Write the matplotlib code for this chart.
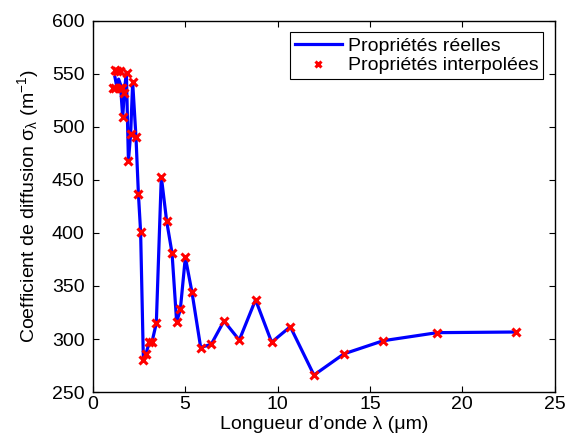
import matplotlib
matplotlib.use("Agg")
import matplotlib.pyplot as plt

plt.rcParams['font.family'] = ['Liberation Sans', 'DejaVu Sans']
plt.rcParams['mathtext.fontset'] = 'custom'
plt.rcParams['mathtext.rm'] = 'Liberation Sans'
plt.rcParams['mathtext.it'] = 'Liberation Sans'

# Real properties (line)
line_x = [1.2, 1.3, 1.4, 1.5, 1.62, 1.72, 1.82, 1.93, 2.05, 2.16, 2.34, 2.47, 2.59,
          2.74, 2.86, 3.06, 3.21, 3.44, 3.71, 4.0, 4.29, 4.54, 4.74, 5.01, 5.37,
          5.84, 6.41, 7.1, 7.93, 8.81, 9.68, 10.69, 11.97, 13.59, 15.72, 18.64, 22.88]
line_y = [547, 538, 545, 540, 509, 535, 551, 468, 493, 542, 490, 437, 401,
          280, 285, 297, 297.5, 315, 453, 411, 381, 316, 328, 377, 344,
          292, 295, 317, 299, 337, 297, 311.6, 266, 286, 298.4, 306, 306.6]

# Interpolated properties (markers)
mark_x = [1.08, 1.21, 1.3, 1.45, 1.21, 1.45, 1.57, 1.71, 1.62, 1.84, 2.16, 1.93, 2.05, 2.34,
          2.47, 2.59, 2.74, 2.86, 3.06, 3.21, 3.44, 3.71, 4.0, 4.29, 4.54, 4.74,
          5.01, 5.37, 5.84, 6.41, 7.1, 7.93, 8.81, 9.68, 10.69, 11.97, 13.59,
          15.72, 18.64, 22.88]
mark_y = [537, 553.5, 553, 553, 537, 537, 537, 532, 509.5, 551, 542.5, 468, 493, 490,
          437, 401, 280, 285.6, 297, 297.5, 315, 453, 411, 381, 316, 328,
          377, 344, 292, 295, 317, 299, 337, 297, 311.6, 266, 286,
          298.4, 306, 306.6]

xticks = [0, 5, 10, 15, 20, 25]
yticks = [250, 300, 350, 400, 450, 500, 550, 600]

fig = plt.figure(figsize=(5.69, 4.42), dpi=100)
ax = fig.add_axes([0.163, 0.113, 0.812, 0.840])

ax.plot(line_x, line_y, color='#0000ff', lw=2.3, label='Propriétés réelles', zorder=2)
ax.plot(mark_x, mark_y, linestyle='none', marker='x', color='#ff0000',
        markersize=5.5, markeredgewidth=2.2, label='Propriétés interpolées', zorder=3)

ax.set_xlim(0, 25)
ax.set_ylim(250, 600)
ax.set_xticks(xticks)
ax.set_yticks(yticks)
ax.tick_params(direction='in', top=True, right=True, labelsize=14, length=4, width=0.8)
ax.tick_params(axis='x', pad=3)
ax.tick_params(axis='y', pad=6)
for s in ax.spines.values():
    s.set_linewidth(1.0)

ax.set_xlabel('Longueur d’onde λ (μm)', fontsize=14, labelpad=2)
ax.set_ylabel('Coefficient de diffusion σ$_λ$ (m$^{-1}$)', fontsize=14, labelpad=8)

leg = ax.legend(loc='upper right', fontsize=14, fancybox=False, framealpha=1,
                edgecolor='black', borderpad=0.25, handlelength=2.4, labelspacing=0.1,
                borderaxespad=0.6, handletextpad=0.3, markerscale=0.7)
leg.get_frame().set_linewidth(0.8)

fig.savefig('out.png', dpi=100)
